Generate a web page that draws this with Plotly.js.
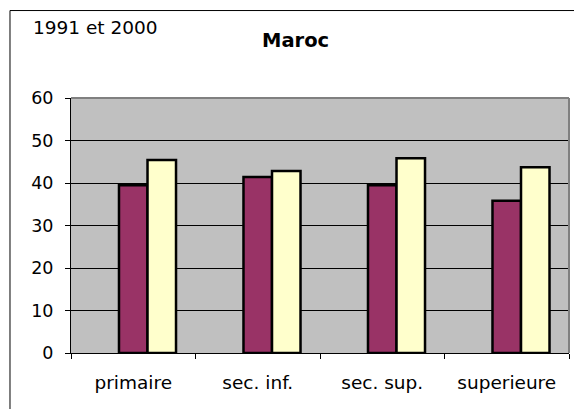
<!DOCTYPE html>
<html><head><meta charset="utf-8">
<script src="https://cdn.plot.ly/plotly-3.0.1.min.js"></script>
<style>html,body{margin:0;padding:0;background:#fff;}#chart{width:574px;height:409px;}</style>
</head><body><div id="chart"></div>
<script>
var categories = ["primaire", "sec. inf.", "sec. sup.", "superieure"];
var seriesEmpty = [null, null, null, null];
var series1991 = [39.5, 41.4, 39.5, 35.8];
var series2000 = [45.4, 42.8, 45.8, 43.7];
var yTicks = [0, 10, 20, 30, 40, 50, 60];

var font = "DejaVu Sans, Liberation Sans, Arial, sans-serif";
var traces = [
  {type: "bar", x: categories, y: seriesEmpty, name: "", showlegend: false, hoverinfo: "skip",
   marker: {color: "rgba(0,0,0,0)"}},
  {type: "bar", x: categories, y: series1991, name: "1991", showlegend: false,
   marker: {color: "#993366", line: {color: "#000", width: 2.5}}},
  {type: "bar", x: categories, y: series2000, name: "2000", showlegend: false,
   marker: {color: "#FFFFCC", line: {color: "#000", width: 2.5}}}
];
var layout = {
  width: 574, height: 409,
  margin: {l: 71, r: 5, t: 98, b: 56, pad: 0},
  paper_bgcolor: "#ffffff", plot_bgcolor: "#C0C0C0",
  barmode: "group", bargap: 0.313, bargroupgap: 0,
  font: {family: font, color: "#000"},
  showlegend: false,
  xaxis: {type: "category", showgrid: false, showline: true, linecolor: "#000", linewidth: 1,
    ticks: "outside", tickson: "boundaries", ticklen: 5, tickcolor: "#000",
    tickfont: {family: font, size: 18.5, color: "#000"}, ticklabelstandoff: 13, zeroline: false},
  yaxis: {range: [0, 60], tickvals: yTicks, showgrid: true, gridcolor: "#000", gridwidth: 1,
    showline: true, linecolor: "#000", linewidth: 1, ticks: "outside", ticklen: 5, tickcolor: "#000",
    tickfont: {family: font, size: 17.5, color: "#000"}, ticklabelstandoff: 8, zeroline: false},
  shapes: [
    {type: "line", xref: "paper", yref: "paper", x0: 0, x1: 1, y0: 1, y1: 1, line: {color: "#808080", width: 2}},
    {type: "line", xref: "paper", yref: "paper", x0: 1, x1: 1, y0: 0, y1: 1, line: {color: "#808080", width: 2}},
    {type: "rect", xref: "paper", yref: "paper", x0: -0.1225, x1: 1.2, y0: -0.5, y1: 1.343, line: {color: "#000", width: 1}}
  ],
  annotations: [
    {text: "1991 et 2000", xref: "paper", yref: "paper", x: -0.081, y: 1.278, xanchor: "left", yanchor: "middle",
     showarrow: false, font: {family: font, size: 18.5, color: "#000"}},
    {text: "<b>Maroc</b>", xref: "paper", yref: "paper", x: 0.45, y: 1.225, xanchor: "center", yanchor: "middle",
     showarrow: false, font: {family: font, size: 19.5, color: "#000"}}
  ]
};
Plotly.newPlot("chart", traces, layout, {staticPlot: true, displayModeBar: false});
</script></body></html>
